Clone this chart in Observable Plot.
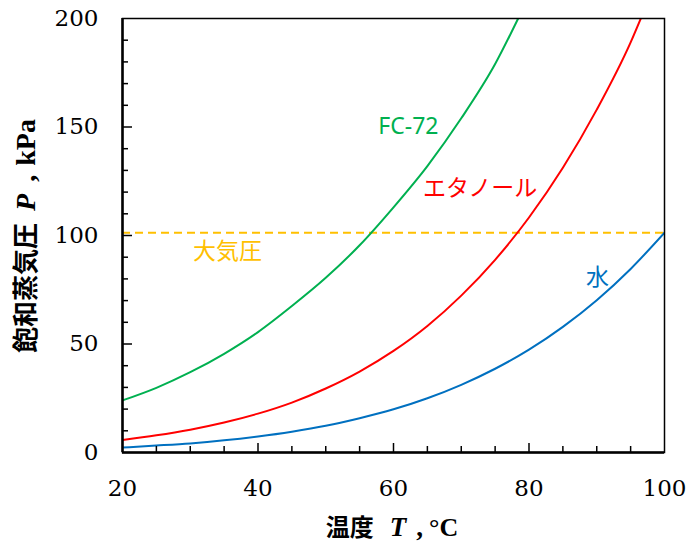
<!DOCTYPE html>
<html><head><meta charset="utf-8">
<script src="https://cdn.jsdelivr.net/npm/d3@7"></script>
<script src="https://cdn.jsdelivr.net/npm/@observablehq/plot@0.6"></script>
<style>body{margin:0;background:#fff}</style>
</head><body><div id="chart"></div>
<script>
const waterT = [20,25,30,35,40,45,50,55,60,65,70,75,80,85,90,95,100];
const waterP = [2.3,3.2,4.2,5.6,7.4,9.6,12.3,15.8,19.9,25.0,31.2,38.6,47.4,57.9,70.2,84.6,101.3];
const ethanolT = [20,25,30,35,40,45,50,55,60,65,70,75,80,85,90,95,96.5];
const ethanolP = [5.8,7.9,10.5,13.8,17.9,23.0,29.5,37.3,46.8,58.3,72.3,88.8,108.3,131.2,158.0,189.0,200];
const fc72T = [20,25,30,35,40,45,50,55,60,65,70,75,78.4];
const fc72P = [24.0,29.8,37.0,45.5,55.5,67.5,80.5,95.5,113,132,154,179,200];
const atmP = 101.3;
const seriesNames = ["水","エタノール","FC-72","大気圧"];
const seriesColors = ["#0070c0","#ff0000","#00b050","#ffc000"];
const labelText = ["FC-72","エタノール","大気圧","水"];
const labelT = [62.2,72.8,35.5,90.1];
const labelP = [150,121.4,92.6,80.4];
const xTicks = [20,40,60,80,100];
const yTicks = [0,50,100,150,200];
const xMinorTicks = [25,30,35,45,50,55,65,70,75,85,90,95];
const yMinorTicks = [10,20,30,40,60,70,80,90,110,120,130,140,160,170,180,190];
const yMajorInner = [50,100,150];
const xMajorInner = [40,60,80];

const curves = [
  ...waterT.map((t,i)=>({T:t,P:waterP[i],series:"水"})),
  ...ethanolT.map((t,i)=>({T:t,P:ethanolP[i],series:"エタノール"})),
  ...fc72T.map((t,i)=>({T:t,P:fc72P[i],series:"FC-72"}))
];
const labels = labelText.map((s,i)=>({text:s,T:labelT[i],P:labelP[i],series:s}));

const W = 689, H = 546, mL = 122, mR = 25, mT = 18, mB = 94;
const iw = W - mL - mR, ih = H - mT - mB;

const svg = Plot.plot({
  width: W, height: H,
  marginLeft: mL, marginRight: mR, marginTop: mT, marginBottom: mB,
  style: {background: "#fff", color: "#000"},
  x: {domain: [20, 100]},
  y: {domain: [0, 200]},
  color: {domain: seriesNames, range: seriesColors},
  marks: [
    Plot.ruleY([{P: atmP, series: "大気圧"}], {y: "P", stroke: "series", strokeWidth: 2, strokeDasharray: "8,5"}),
    Plot.line(curves, {x: "T", y: "P", z: "series", stroke: "series", strokeWidth: 2, curve: "monotone-x", clip: true}),
    Plot.text(labels.filter(d => d.text === "FC-72"), {x: "T", y: "P", text: "text", fill: "series", fontSize: 23, fontFamily: "Noto Sans", textAnchor: "middle", lineAnchor: "middle", ariaLabel: "latin-label"}),
    Plot.text(labels.filter(d => d.text !== "FC-72"), {x: "T", y: "P", text: "text", fill: "series", fontSize: 23, fontFamily: "Noto Sans CJK JP", textAnchor: "middle", lineAnchor: "middle", ariaLabel: "cjk-label"}),
    Plot.tickY(yMinorTicks, {y: d => d, insetRight: iw - 6, strokeWidth: 1.5}),
    Plot.tickY(yMajorInner, {y: d => d, insetRight: iw - 10, strokeWidth: 1.5}),
    Plot.tickX(xMinorTicks, {x: d => d, insetTop: ih - 6, strokeWidth: 1.5}),
    Plot.tickX(xMajorInner, {x: d => d, insetTop: ih - 9, strokeWidth: 1.5}),
    Plot.frame({stroke: "#000", strokeWidth: 1.5}),
    Plot.ruleX([20], {strokeWidth: 2.5}),
    Plot.ruleY([0], {strokeWidth: 2.5}),
    Plot.axisX(xTicks, {tickSize: 0, tickPadding: 27, fontSize: 23, label: null}),
    Plot.axisY(yTicks, {tickSize: 0, tickPadding: 24, fontSize: 23, label: null})
  ]
});

const s = d3.select(svg);
s.selectAll('g[aria-label="x-axis tick label"], g[aria-label="y-axis tick label"]')
  .style("font-family", "'DejaVu Serif'").style("font-size", "23px");
s.selectAll('g[aria-label="x-axis tick label"] text, g[aria-label="y-axis tick label"] text')
  .style("font-family", "'DejaVu Serif'").style("font-size", "23px");
s.selectAll('g[aria-label="latin-label"] text').style("font-family", "'Noto Sans'").style("font-size", "23px");
s.selectAll('g[aria-label="cjk-label"] text').style("font-family", "'Noto Sans CJK JP'").style("font-size", "23px");

const serif = "'Liberation Serif'";
const cjk = "'Noto Sans CJK JP'";
// x-axis title
const xt = s.append("text").attr("x", 392).attr("y", 536).attr("text-anchor", "middle").style("fill", "#000").style("font-weight", "bold");
xt.append("tspan").style("font-family", cjk).style("font-size", "24px").text("温度");
xt.append("tspan").attr("dx", 16).style("font-family", serif).style("font-style", "italic").style("font-size", "27px").text("T");
xt.append("tspan").attr("dx", 10).style("font-family", serif).style("font-size", "27px").text(",");
xt.append("tspan").attr("dx", 6).style("font-family", serif).style("font-size", "26px").text("°C");
// y-axis title
const yt = s.append("text").attr("transform", "translate(35,236) rotate(-90)").attr("text-anchor", "middle").style("fill", "#000").style("font-weight", "bold");
yt.append("tspan").style("font-family", cjk).style("font-size", "26px").text("飽和蒸気圧");
yt.append("tspan").attr("dx", 12).style("font-family", serif).style("font-style", "italic").style("font-size", "28px").text("P");
yt.append("tspan").attr("dx", 12).style("font-family", serif).style("font-size", "28px").text(",");
yt.append("tspan").attr("dx", 9).style("font-family", serif).style("font-size", "28px").text("kPa");

document.getElementById("chart").appendChild(svg);
</script>
</body></html>
